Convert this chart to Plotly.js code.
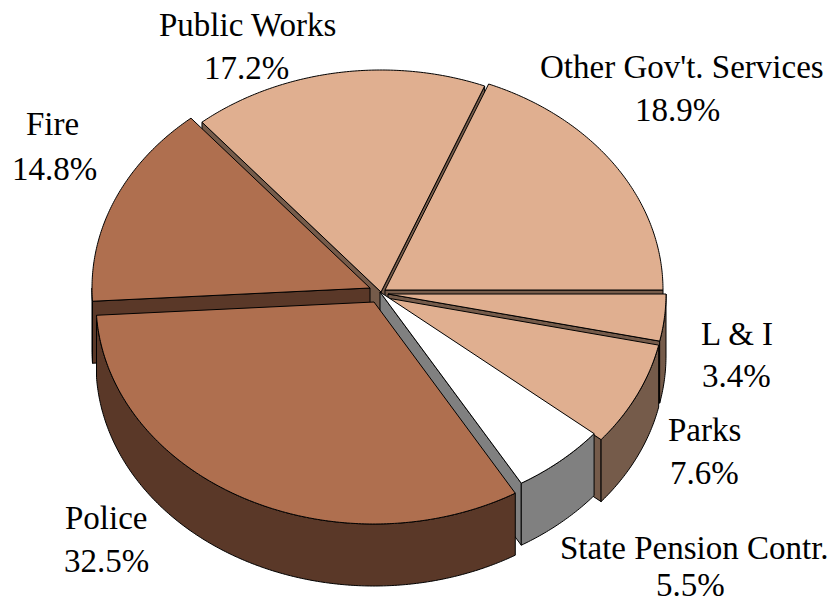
<!DOCTYPE html>
<html>
<head>
<meta charset="utf-8">
<script src="https://cdn.plot.ly/plotly-3.0.1.min.js"></script>
<style>html,body{margin:0;padding:0;background:#fff}#chart{width:828px;height:604px}</style>
</head>
<body>
<div id="chart"></div>
<script>
// Budget shares, counter-clockwise from the east edge of the disc
const categories = ["Other Gov't. Services", "Public Works", "Fire", "Police", "State Pension Contr.", "Parks", "L & I"];
const shares = [18.9, 17.2, 14.8, 32.5, 5.5, 7.6, 3.4];

// Fill colours for the top face and for the extruded walls
const TOP_COLORS = ["#E0AF90", "#E0AF90", "#AF6F4F", "#AF6F4F", "#FFFFFF", "#E0AF90", "#E0AF90"];
const WALL_COLORS = ["#755B4A", "#755B4A", "#5A3828", "#5A3828", "#808080", "#755B4A", "#755B4A"];

// Where each exploded slice's apex lands
const APEX_X = [385, 381, 370, 374, 380, 387, 388];
const APEX_Y = [290, 292, 288, 302, 292, 298, 294];

// Disc projection: horizontal and vertical radii, and extrusion height
const RX = 278, RY = 222, DEPTH = 62;

// Back-to-front paint order (indices into categories)
const PAINT_ORDER = [1, 0, 2, 6, 5, 4, 3];

// Label anchors: name line then percentage line
const NAME_X = [682, 247, 52, 106, 694, 704, 737];
const NAME_Y = [67, 25, 124, 518, 548, 430, 334];
const PCT_X = [677, 246, 54, 106, 690, 704, 736];
const PCT_Y = [110, 68, 169, 561, 585, 473, 376];

const total = shares.reduce((a, b) => a + b, 0);
const edges = [0];
shares.forEach(s => edges.push(edges[edges.length - 1] + s / total * 2 * Math.PI));

function rimPoint(i, t, drop) {
  return [APEX_X[i] + RX * Math.cos(t), APEX_Y[i] - RY * Math.sin(t) + drop];
}

function arc(i, a, b, drop) {
  const n = Math.max(2, Math.ceil(Math.abs(b - a) / 0.01));
  const pts = [];
  for (let k = 0; k <= n; k++) pts.push(rimPoint(i, a + (b - a) * k / n, drop));
  return pts;
}

function poly(points, color, name) {
  return {
    type: 'scatter', mode: 'lines', name: name,
    x: points.map(p => p[0]), y: points.map(p => p[1]),
    fill: 'toself', fillcolor: color,
    line: { color: '#000000', width: 1, simplify: false },
    hoverinfo: 'skip', showlegend: false
  };
}

const traces = [];
PAINT_ORDER.forEach(i => {
  const a = edges[i], b = edges[i + 1];
  const apex = [APEX_X[i], APEX_Y[i]];
  const apexLow = [APEX_X[i], APEX_Y[i] + DEPTH];
  // Radial cut walls: only those whose outward side looks down toward the viewer
  const cuts = [];
  if (Math.cos(a) > 0) cuts.push(a);
  if (Math.cos(b) < 0) cuts.push(b);
  cuts.forEach(t => {
    traces.push(poly([apex, rimPoint(i, t, 0), rimPoint(i, t, DEPTH), apexLow, apex], WALL_COLORS[i], categories[i]));
  });
  // Outer wall only where the rim faces the viewer
  const lo = Math.max(a, Math.PI), hi = Math.min(b, 2 * Math.PI);
  if (hi > lo) {
    traces.push(poly(arc(i, lo, hi, 0).concat(arc(i, hi, lo, DEPTH)).concat([rimPoint(i, lo, 0)]), WALL_COLORS[i], categories[i]));
  }
  // Top face
  traces.push(poly([apex].concat(arc(i, a, b, 0)).concat([apex]), TOP_COLORS[i], categories[i]));
});

const labelFont = { family: '"Liberation Serif", serif', size: 33, color: '#000000' };
const annotations = [];
categories.forEach((c, i) => {
  annotations.push({ x: NAME_X[i], y: NAME_Y[i], text: c, showarrow: false, xanchor: 'center', yanchor: 'middle', font: labelFont });
  annotations.push({ x: PCT_X[i], y: PCT_Y[i], text: shares[i].toFixed(1) + '%', showarrow: false, xanchor: 'center', yanchor: 'middle', font: labelFont });
});

const hidden = { visible: false, fixedrange: true };
Plotly.newPlot('chart', traces, {
  width: 828, height: 604,
  margin: { l: 0, r: 0, t: 0, b: 0 },
  paper_bgcolor: '#ffffff', plot_bgcolor: '#ffffff',
  xaxis: Object.assign({ range: [0, 828] }, hidden),
  yaxis: Object.assign({ range: [604, 0] }, hidden),
  showlegend: false,
  annotations: annotations
}, { displayModeBar: false, staticPlot: true });
</script>
</body>
</html>
